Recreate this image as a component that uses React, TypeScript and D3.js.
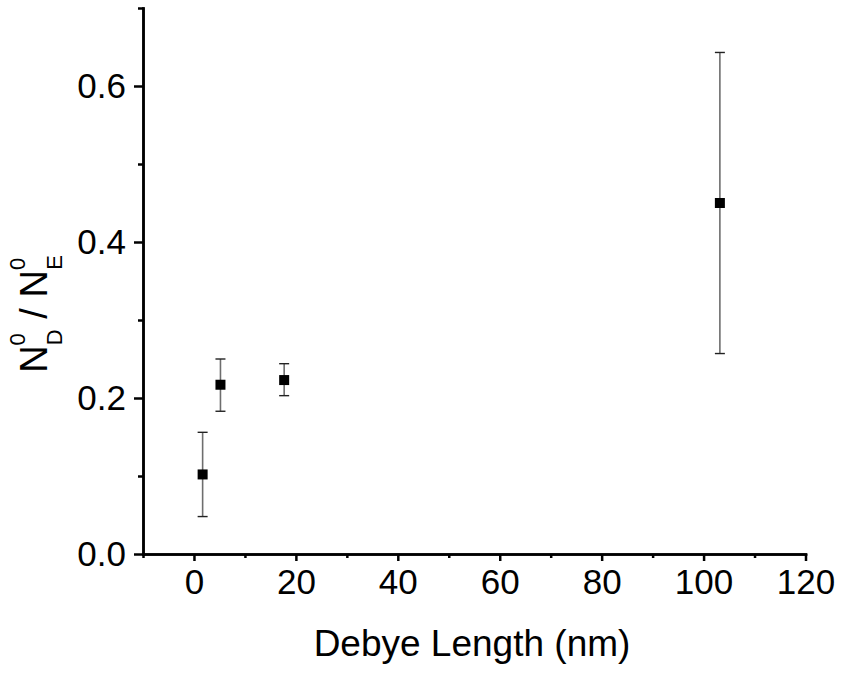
import React, { useEffect, useRef } from "react";
import * as d3 from "d3";

// data
const debyeLength = [1.7, 5.2, 17.7, 103.2];
const ratio = [0.102, 0.217, 0.223, 0.45];
const errLow = [0.048, 0.183, 0.203, 0.257];
const errHigh = [0.156, 0.25, 0.244, 0.643];

const xMajor = [0, 20, 40, 60, 80, 100, 120];
const xMinor = [-10, 10, 30, 50, 70, 90, 110];
const yMajor = [0, 0.2, 0.4, 0.6];
const yMinor = [0.1, 0.3, 0.5, 0.7];

const W = 843;
const H = 675;
const FONT = "Liberation Sans, Arial, sans-serif";

const App = () => {
  const svgRef = useRef<SVGSVGElement>(null);

  useEffect(() => {
    const svg = d3.select(svgRef.current);
    svg.selectAll("*").remove();

    const x = d3.scaleLinear().domain([-10, 120]).range([143, 805.5]);
    const y = d3.scaleLinear().domain([0, 0.7]).range([554, 8]);

    // x axis (minor ticks in their own group so the join does not eat the major ones)
    svg
      .append("g")
      .attr("transform", `translate(0,${y(0)})`)
      .call(d3.axisBottom(x).tickValues(xMinor).tickSize(4).tickSizeOuter(0).tickFormat(() => ""));
    svg
      .append("g")
      .attr("transform", `translate(0,${y(0)})`)
      .call(d3.axisBottom(x).tickValues(xMajor).tickSize(7).tickSizeOuter(0).tickPadding(8));

    // y axis
    svg
      .append("g")
      .attr("transform", `translate(${x(-10)},0)`)
      .call(d3.axisLeft(y).tickValues(yMinor).tickSize(5).tickSizeOuter(0).tickFormat(() => ""));
    svg
      .append("g")
      .attr("transform", `translate(${x(-10)},0)`)
      .call(
        d3
          .axisLeft(y)
          .tickValues(yMajor)
          .tickSize(9)
          .tickSizeOuter(0)
          .tickPadding(8)
          .tickFormat(d3.format(".1f") as any)
      );

    svg
      .selectAll(".domain, .tick line")
      .attr("stroke", "#000")
      .attr("stroke-width", 2.5);
    svg.selectAll(".domain").attr("stroke-linecap", "square");
    svg
      .selectAll(".tick text")
      .attr("fill", "#000")
      .style("font-family", FONT)
      .style("font-size", "35px");

    // error bars
    const bars = svg.append("g");
    debyeLength.forEach((d, i) => {
      bars
        .append("line")
        .attr("x1", x(d))
        .attr("x2", x(d))
        .attr("y1", y(errLow[i]))
        .attr("y2", y(errHigh[i]))
        .attr("stroke", "#6e6e6e")
        .attr("stroke-width", 1.6);
      [errLow[i], errHigh[i]].forEach((v) => {
        bars
          .append("line")
          .attr("x1", x(d) - 5)
          .attr("x2", x(d) + 5)
          .attr("y1", y(v))
          .attr("y2", y(v))
          .attr("stroke", "#222")
          .attr("stroke-width", 1.4);
      });
    });

    // square markers
    svg
      .append("g")
      .selectAll("rect")
      .data(debyeLength)
      .join("rect")
      .attr("x", (d) => x(d) - 5)
      .attr("y", (d, i) => y(ratio[i]) - 5)
      .attr("width", 10)
      .attr("height", 10)
      .attr("fill", "#000");

    // axis titles
    svg
      .append("text")
      .attr("x", 472)
      .attr("y", 656)
      .attr("text-anchor", "middle")
      .style("font-family", FONT)
      .style("font-size", "37px")
      .text("Debye Length (nm)");

    const yt = svg
      .append("text")
      .attr("transform", "translate(47,314) rotate(-90)")
      .attr("text-anchor", "middle")
      .style("font-family", FONT)
      .style("font-size", "38px");
    yt.append("tspan").text("N");
    yt.append("tspan").attr("dy", -22).style("font-size", "22px").text("0");
    yt.append("tspan").attr("dx", -12).attr("dy", 37).style("font-size", "22px").text("D");
    yt.append("tspan").attr("dy", -15).text(" / N");
    yt.append("tspan").attr("dy", -22).style("font-size", "22px").text("0");
    yt.append("tspan").attr("dx", -12).attr("dy", 37).style("font-size", "22px").text("E");
  }, []);

  return (
    <svg
      ref={svgRef}
      width={W}
      height={H}
      style={{ position: "absolute", left: 0, top: 0, background: "#fff" }}
    />
  );
};

export default App;
